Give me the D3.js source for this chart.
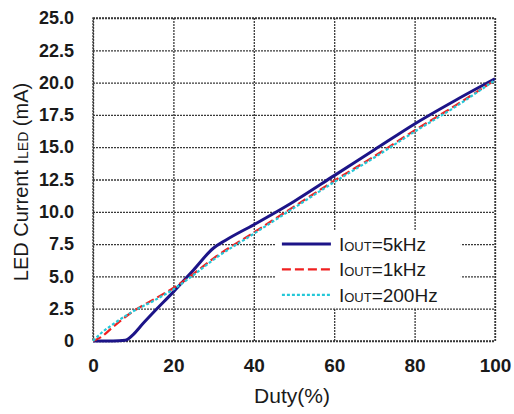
<!DOCTYPE html>
<html>
<head>
<meta charset="utf-8">
<script src="https://cdn.jsdelivr.net/npm/d3@7"></script>
<style>
  body { margin: 0; background: #fff; }
  text { font-family: "Liberation Sans", Arial, sans-serif; fill: #1a1a1a; }
</style>
</head>
<body>
<svg id="chart" width="514" height="414"></svg>
<script>
// duty (%) and LED current (mA)
var duty5k = [0, 5, 8, 10, 12, 15, 20, 25, 30, 33, 40, 50, 60, 70, 80, 90, 100];
var led5k = [0, 0, 0.05, 0.5, 1.2, 2.2, 3.8, 5.5, 7.2, 7.8, 9.0, 10.8, 12.8, 14.8, 16.8, 18.6, 20.3];

var duty1k = [0, 2, 5, 10, 15, 20, 25, 30, 40, 50, 60, 70, 80, 90, 100];
var led1k = [0, 0.3, 1.1, 2.3, 3.2, 4.1, 5.2, 6.4, 8.4, 10.4, 12.4, 14.3, 16.3, 18.2, 20.2];

var duty200 = [0, 2, 5, 10, 15, 20, 25, 30, 40, 50, 60, 70, 80, 90, 100];
var led200 = [0, 0.6, 1.3, 2.3, 3.1, 4.0, 5.1, 6.3, 8.3, 10.3, 12.3, 14.2, 16.2, 18.1, 20.2];

var xTicks = [0, 20, 40, 60, 80, 100];
var yTicks = [0, 2.5, 5, 7.5, 10, 12.5, 15, 17.5, 20, 22.5, 25];

var seriesNames = ["=5kHz", "=1kHz", "=200Hz"];

var svg = d3.select("#chart"),
    margin = { top: 18, right: 19, bottom: 73, left: 93 },
    width = +svg.attr("width") - margin.left - margin.right,
    height = +svg.attr("height") - margin.top - margin.bottom,
    g = svg.append("g").attr("transform", "translate(" + margin.left + "," + margin.top + ")");

var x = d3.scaleLinear().domain([0, 100]).range([0, width]);
var y = d3.scaleLinear().domain([0, 25]).range([height, 0]);

var gridColor = "#3a3a3a";

// gridlines
g.append("g")
    .call(d3.axisLeft(y).tickValues(yTicks).tickSize(-width).tickFormat(""))
    .call(function (a) { a.select(".domain").remove(); })
    .selectAll("line")
    .attr("stroke", gridColor)
    .attr("stroke-width", 1.3)
    .attr("stroke-dasharray", "2,1");

g.append("g")
    .attr("transform", "translate(0," + height + ")")
    .call(d3.axisBottom(x).tickValues(xTicks).tickSize(-height).tickFormat(""))
    .call(function (a) { a.select(".domain").remove(); })
    .selectAll("line")
    .attr("stroke", gridColor)
    .attr("stroke-width", 1.3)
    .attr("stroke-dasharray", "2,1");

// frame
g.append("rect")
    .attr("width", width)
    .attr("height", height)
    .attr("fill", "none")
    .attr("stroke", gridColor)
    .attr("stroke-width", 1.3)
    .attr("stroke-dasharray", "2,1");

// tick labels
g.append("g")
    .call(d3.axisLeft(y).tickValues(yTicks).tickSize(0).tickPadding(19)
        .tickFormat(function (d) { return d === 0 ? "0" : d3.format(".1f")(d); }))
    .call(function (a) { a.select(".domain").remove(); })
    .selectAll("text")
    .style("font-size", "18px")
    .style("font-weight", "bold")
    .attr("fill", "#2a2a2a");

g.append("g")
    .attr("transform", "translate(0," + height + ")")
    .call(d3.axisBottom(x).tickValues(xTicks).tickSize(0).tickPadding(18))
    .call(function (a) { a.select(".domain").remove(); })
    .selectAll("text")
    .style("font-size", "19px")
    .style("font-weight", "bold")
    .attr("fill", "#2a2a2a");

// axis titles
g.append("text")
    .attr("x", x(50) - 2)
    .attr("y", height + 62)
    .attr("text-anchor", "middle")
    .style("font-size", "21px")
    .text("Duty(%)");

var yl = svg.append("text")
    .attr("transform", "translate(28," + 182 + ") rotate(-90)")
    .attr("text-anchor", "middle")
    .style("font-size", "20px");
yl.append("tspan").text("LED Current I");
yl.append("tspan").style("font-size", "14px").text("LED");
yl.append("tspan").text(" (mA)");

// lines
var line = d3.line()
    .x(function (d) { return x(d[0]); })
    .y(function (d) { return y(d[1]); })
    .curve(d3.curveMonotoneX);

var series = [
    { xs: duty200, ys: led200, color: "#25c8d8", width: 2.2, dash: "3,2" },
    { xs: duty1k, ys: led1k, color: "#f02020", width: 2.2, dash: "9,4" },
    { xs: duty5k, ys: led5k, color: "#1c1488", width: 3, dash: null }
];

// draw 5kHz first so the dashed ones sit on top like in the picture
[series[2], series[1], series[0]].forEach(function (s) {
    g.append("path")
        .datum(d3.zip(s.xs, s.ys))
        .attr("fill", "none")
        .attr("stroke", s.color)
        .attr("stroke-width", s.width)
        .attr("stroke-dasharray", s.dash)
        .attr("stroke-linejoin", "round")
        .attr("d", line);
});

// legend
var legend = g.append("g").attr("transform", "translate(" + x(45.5) + "," + y(8.6) + ")");
legend.append("rect")
    .attr("x", 0).attr("y", 0)
    .attr("width", 185).attr("height", 78)
    .attr("fill", "#fff");

var legendStyles = [series[2], series[1], series[0]];
legendStyles.forEach(function (s, i) {
    var row = legend.append("g").attr("transform", "translate(0," + (14 + i * 25.5) + ")");
    row.append("line")
        .attr("x1", 6).attr("x2", 55)
        .attr("stroke", s.color)
        .attr("stroke-width", s.width)
        .attr("stroke-dasharray", s.dash);
    var t = row.append("text")
        .attr("x", 63)
        .attr("dy", "0.36em")
        .style("font-size", "19px");
    t.append("tspan").text("I");
    t.append("tspan").style("font-size", "13px").text("OUT");
    t.append("tspan").text(seriesNames[i]);
});
</script>
</body>
</html>
